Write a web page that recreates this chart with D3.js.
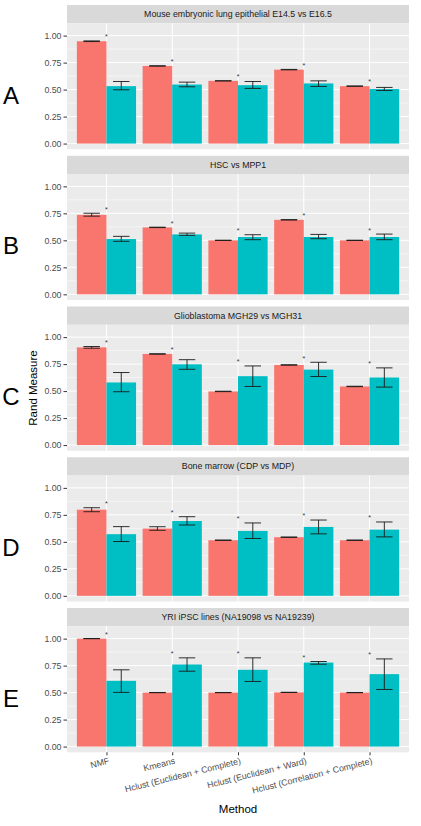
<!DOCTYPE html>
<html>
<head>
<meta charset="utf-8">
<script src="https://cdn.jsdelivr.net/npm/d3@7"></script>
<style>
  body { margin: 0; background: #fff; }
  text { font-family: "Liberation Sans", Arial, sans-serif; }
</style>
</head>
<body>
<div id="chart-area"></div>
<script>
const methods = ["NMF", "Kmeans", "Hclust (Euclidean + Complete)", "Hclust (Euclidean + Ward)", "Hclust (Correlation + Complete)"];
const panelTitles = ["Mouse embryonic lung epithelial E14.5 vs E16.5", "HSC vs MPP1", "Glioblastoma MGH29 vs MGH31", "Bone marrow (CDP vs MDP)", "YRI iPSC lines (NA19098 vs NA19239)"];
const panelLetters = ["A", "B", "C", "D", "E"];
const yTicks = [0, 0.25, 0.5, 0.75, 1];

// red series (one row per panel, one value per method)
const redMean = [
  [0.948, 0.719, 0.581, 0.685, 0.532],
  [0.736, 0.620, 0.500, 0.690, 0.500],
  [0.905, 0.844, 0.497, 0.742, 0.543],
  [0.798, 0.623, 0.515, 0.543, 0.515],
  [1.000, 0.500, 0.500, 0.502, 0.500]
];
const redLow = [
  [0.945, 0.717, 0.580, 0.683, 0.530],
  [0.724, 0.618, 0.499, 0.688, 0.499],
  [0.897, 0.842, 0.495, 0.740, 0.541],
  [0.779, 0.607, 0.513, 0.541, 0.513],
  [0.999, 0.499, 0.499, 0.501, 0.499]
];
const redHigh = [
  [0.951, 0.721, 0.582, 0.687, 0.534],
  [0.751, 0.622, 0.501, 0.692, 0.501],
  [0.913, 0.846, 0.499, 0.744, 0.545],
  [0.816, 0.640, 0.517, 0.545, 0.517],
  [1.001, 0.501, 0.501, 0.503, 0.501]
];

// teal series
const tealMean = [
  [0.532, 0.547, 0.541, 0.557, 0.505],
  [0.512, 0.555, 0.531, 0.531, 0.531],
  [0.580, 0.748, 0.638, 0.699, 0.626],
  [0.571, 0.693, 0.601, 0.638, 0.613],
  [0.609, 0.760, 0.711, 0.778, 0.671]
];
const tealLow = [
  [0.498, 0.526, 0.511, 0.529, 0.492],
  [0.491, 0.546, 0.506, 0.515, 0.506],
  [0.494, 0.702, 0.543, 0.635, 0.537],
  [0.503, 0.656, 0.531, 0.574, 0.546],
  [0.502, 0.698, 0.603, 0.763, 0.529]
];
const tealHigh = [
  [0.575, 0.569, 0.575, 0.581, 0.520],
  [0.537, 0.567, 0.552, 0.555, 0.558],
  [0.672, 0.791, 0.733, 0.767, 0.715],
  [0.641, 0.733, 0.675, 0.702, 0.684],
  [0.711, 0.822, 0.822, 0.788, 0.812]
];

const starOffset = 0.06;
const colors = { red: "#F8766D", teal: "#00BFC4" };

const W = 421, H = 826;
const panelLeft = 67, panelRight = 409;
const firstTop = 5, stripH = 18.3, plotH = 126, period = 150.75;

const svg = d3.select("#chart-area")
    .append("svg")
    .attr("width", W)
    .attr("height", H);

const x = d3.scalePoint()
    .domain(methods)
    .range([panelLeft, panelRight])
    .padding(0.6);
const step = x.step();
const barW = 0.45 * step;
const capW = 0.25 * step;

const allHigh = d3.merge(redHigh.concat(tealHigh));
const yMax = d3.max(allHigh) + starOffset;

panelTitles.forEach((title, p) => {
    const top = firstTop + p * period;
    const plotTop = top + stripH;

    const y = d3.scaleLinear()
        .domain([-0.05 * yMax, 1.05 * yMax])
        .range([plotTop + plotH, plotTop]);

    const g = svg.append("g");

    // strip
    g.append("rect")
        .attr("x", panelLeft).attr("y", top)
        .attr("width", panelRight - panelLeft).attr("height", stripH)
        .attr("fill", "#D9D9D9");
    g.append("text")
        .attr("x", (panelLeft + panelRight) / 2)
        .attr("y", top + stripH / 2)
        .attr("dy", "0.35em")
        .attr("text-anchor", "middle")
        .attr("font-size", "8.8px")
        .attr("fill", "#1A1A1A")
        .text(title);

    // panel background
    g.append("rect")
        .attr("x", panelLeft).attr("y", plotTop)
        .attr("width", panelRight - panelLeft).attr("height", plotH)
        .attr("fill", "#EBEBEB");

    // minor grid
    const minor = d3.range(0, yTicks.length - 1).map(i => (yTicks[i] + yTicks[i + 1]) / 2);
    g.selectAll(".minor")
        .data(minor)
        .enter().append("line")
        .attr("x1", panelLeft).attr("x2", panelRight)
        .attr("y1", d => y(d)).attr("y2", d => y(d))
        .attr("stroke", "#fff").attr("stroke-width", 0.5);

    // major grid
    g.selectAll(".major")
        .data(yTicks)
        .enter().append("line")
        .attr("x1", panelLeft).attr("x2", panelRight)
        .attr("y1", d => y(d)).attr("y2", d => y(d))
        .attr("stroke", "#fff").attr("stroke-width", 1);
    g.selectAll(".vgrid")
        .data(methods)
        .enter().append("line")
        .attr("x1", d => x(d)).attr("x2", d => x(d))
        .attr("y1", plotTop).attr("y2", plotTop + plotH)
        .attr("stroke", "#fff").attr("stroke-width", 1);

    // bars
    g.selectAll(".bar-red")
        .data(methods)
        .enter().append("rect")
        .attr("x", d => x(d) - barW)
        .attr("y", (d, i) => y(redMean[p][i]))
        .attr("width", barW)
        .attr("height", (d, i) => y(0) - y(redMean[p][i]))
        .attr("fill", colors.red);
    g.selectAll(".bar-teal")
        .data(methods)
        .enter().append("rect")
        .attr("x", d => x(d))
        .attr("y", (d, i) => y(tealMean[p][i]))
        .attr("width", barW)
        .attr("height", (d, i) => y(0) - y(tealMean[p][i]))
        .attr("fill", colors.teal);

    // error bars
    const drawErr = (cx, lo, hi) => {
        const e = g.append("g").attr("stroke", "#1a1a1a").attr("stroke-width", 0.9).attr("fill", "none");
        e.append("line").attr("x1", cx).attr("x2", cx).attr("y1", y(lo)).attr("y2", y(hi));
        e.append("line").attr("x1", cx - capW / 2).attr("x2", cx + capW / 2).attr("y1", y(lo)).attr("y2", y(lo));
        e.append("line").attr("x1", cx - capW / 2).attr("x2", cx + capW / 2).attr("y1", y(hi)).attr("y2", y(hi));
    };
    methods.forEach((m, i) => {
        drawErr(x(m) - barW / 2, redLow[p][i], redHigh[p][i]);
        drawErr(x(m) + barW / 2, tealLow[p][i], tealHigh[p][i]);
    });

    // significance stars
    g.selectAll(".star")
        .data(methods)
        .enter().append("text")
        .attr("x", d => x(d))
        .attr("y", (d, i) => y(Math.max(redHigh[p][i], tealHigh[p][i]) + starOffset))
        .attr("dy", "0.7em")
        .attr("text-anchor", "middle")
        .attr("font-size", "7px")
        .attr("fill", "#333")
        .text("*");

    // y axis
    const yAxis = d3.axisLeft(y)
        .tickValues(yTicks)
        .tickSize(3.5)
        .tickPadding(2)
        .tickFormat(d3.format(".2f"));
    const ya = g.append("g")
        .attr("transform", `translate(${panelLeft}, 0)`)
        .call(yAxis);
    ya.select(".domain").remove();
    ya.selectAll("line").attr("stroke", "#333");
    ya.selectAll("text")
        .attr("font-size", "8.8px")
        .attr("font-family", "Liberation Sans, Arial, sans-serif")
        .attr("fill", "#4D4D4D");

    // panel letter
    svg.append("text")
        .attr("x", 11)
        .attr("y", plotTop + plotH / 2 + 9)
        .attr("dy", "0.35em")
        .attr("text-anchor", "middle")
        .attr("font-size", "24px")
        .attr("font-family", "Open Sans, sans-serif")
        .attr("fill", "#000")
        .text(panelLetters[p]);

    // x axis on the last panel
    if (p === panelTitles.length - 1) {
        const xa = g.append("g")
            .attr("transform", `translate(0, ${plotTop + plotH})`)
            .call(d3.axisBottom(x).tickSize(3).tickPadding(2));
        xa.select(".domain").remove();
        xa.selectAll("line").attr("stroke", "#333");
        xa.selectAll("text")
            .attr("font-size", "8.8px")
            .attr("font-family", "Liberation Sans, Arial, sans-serif")
            .attr("fill", "#4D4D4D")
            .attr("text-anchor", "end")
            .attr("x", 0)
            .attr("y", 5)
            .attr("dy", "0.75em")
            .attr("transform", "rotate(-14)");
    }
});

// axis titles
svg.append("text")
    .attr("x", (panelLeft + panelRight) / 2)
    .attr("y", 813)
    .attr("text-anchor", "middle")
    .attr("font-size", "11.5px")
    .attr("fill", "#000")
    .text("Method");

svg.append("text")
    .attr("transform", "rotate(-90)")
    .attr("x", -388)
    .attr("y", 37)
    .attr("text-anchor", "middle")
    .attr("font-size", "11.5px")
    .attr("fill", "#000")
    .text("Rand Measure");
</script>
</body>
</html>
